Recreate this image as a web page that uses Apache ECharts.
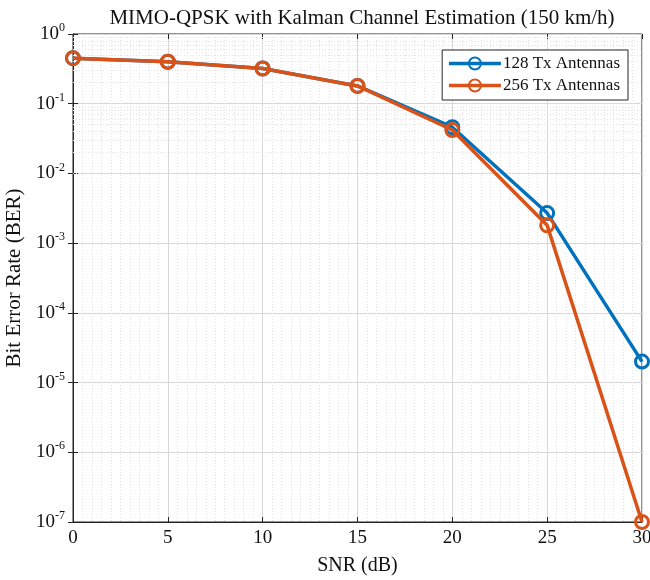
<!DOCTYPE html>
<html>
<head>
<meta charset="utf-8">
<script src="https://cdn.jsdelivr.net/npm/echarts@6/dist/echarts.min.js"></script>
<style>
  html, body { margin: 0; padding: 0; background: #fff; }
  #main { width: 650px; height: 580px; }
</style>
</head>
<body>
<div id="main"></div>
<script>
// SNR points (dB) and BER values
var snr = [0, 5, 10, 15, 20, 25, 30];
var ber128 = [0.45, 0.40, 0.32, 0.18, 0.046, 0.0027, 2.0e-5];
var ber256 = [0.45, 0.40, 0.32, 0.18, 0.042, 0.0018, 1.0e-7];
var seriesNames = ['128 Tx Antennas', '256 Tx Antennas'];

var FONT = '"Liberation Serif", "Times New Roman", serif';
var AXIS = '#262626';

var byId = function(id) {
	return document.getElementById(id);
};

function pairs(xs, ys) {
	var out = [];
	for (var i = 0; i < xs.length; i++) {
		out.push([xs[i], ys[i]]);
	}
	return out;
}

// dotted minor grid (2..9 x 10^k) like MATLAB's log minor grid
var minorY = [];
for (var k = -7; k < 0; k++) {
	for (var m = 2; m <= 9; m++) {
		minorY.push({ yAxis: m * Math.pow(10, k) });
	}
}

function expLabel(v) {
	var e = Math.round(Math.log10(v));
	return '{b|10}{e|' + e + '}';
}

var chart = echarts.init(byId('main'));
var option = {
	backgroundColor: '#fff',
	animation: false,
	title: {
		text: 'MIMO-QPSK with Kalman Channel Estimation (150 km/h)',
		left: 357,
		textAlign: 'center',
		top: 3,
		textStyle: { fontFamily: FONT, fontSize: 21, fontWeight: 'normal', color: '#111' }
	},
	legend: {
		data: seriesNames,
		orient: 'vertical',
		right: 22,
		top: 50,
		padding: [5, 8, 6, 5],
		itemGap: 5,
		itemWidth: 52,
		itemHeight: 15,
		backgroundColor: '#fff',
		borderColor: AXIS,
		borderWidth: 1,
		lineStyle: { width: 3.5 },
		textStyle: { fontFamily: FONT, fontSize: 17, color: '#111', padding: [0, 0, 0, -3] }
	},
	grid: {
		left: 73,
		right: 8,
		top: 34,
		bottom: 58,
		outerBoundsMode: 'none',
		show: true,
		borderColor: AXIS,
		borderWidth: 1,
		backgroundColor: '#fff'
	},
	xAxis: [{
		type: 'value',
		min: 0,
		max: 30,
		interval: 5,
		name: 'SNR (dB)',
		nameLocation: 'middle',
		nameGap: 34,
		nameTextStyle: { fontFamily: FONT, fontSize: 20, color: '#111' },
		axisLine: { show: true, onZero: false, lineStyle: { color: AXIS } },
		axisTick: { inside: true, length: 5, lineStyle: { color: AXIS } },
		axisLabel: { fontFamily: FONT, fontSize: 19, color: '#111', margin: 7 },
		splitLine: { show: true, lineStyle: { color: '#d8d8d8', width: 1 } },
		minorTick: { show: false, splitNumber: 10 },
		minorSplitLine: { show: true, lineStyle: { color: '#e2e2e2', type: [1, 2], width: 1 } }
	}, {
		type: 'value',
		position: 'top',
		min: 0,
		max: 30,
		interval: 5,
		axisLine: { show: false },
		axisTick: { inside: true, length: 5, lineStyle: { color: AXIS } },
		axisLabel: { show: false },
		splitLine: { show: false }
	}],
	yAxis: [{
		type: 'log',
		logBase: 10,
		min: 1e-7,
		max: 1,
		splitNumber: 7,
		name: 'Bit Error Rate (BER)',
		nameLocation: 'middle',
		nameGap: 44,
		nameTextStyle: { fontFamily: FONT, fontSize: 21, color: '#111' },
		axisLine: { show: true, lineStyle: { color: AXIS } },
		axisTick: { inside: true, length: 5, lineStyle: { color: AXIS } },
		axisLabel: {
			margin: 8,
			formatter: expLabel,
			rich: {
				b: { fontFamily: FONT, fontSize: 19, color: '#111', lineHeight: 24 },
				e: { fontFamily: FONT, fontSize: 12, color: '#111', lineHeight: 13, verticalAlign: 'top' }
			}
		},
		splitLine: { show: true, lineStyle: { color: '#d8d8d8', width: 1 } }
	}, {
		type: 'log',
		logBase: 10,
		position: 'right',
		min: 1e-7,
		max: 1,
		splitNumber: 7,
		axisLine: { show: false },
		axisTick: { inside: true, length: 5, lineStyle: { color: AXIS } },
		axisLabel: { show: false },
		splitLine: { show: false }
	}],
	series: [{
		name: seriesNames[0],
		type: 'line',
		data: pairs(snr, ber128),
		symbol: 'circle',
		symbolSize: 13,
		clip: false,
		color: '#0072BD',
		lineStyle: { width: 3.5, color: '#0072BD' },
		itemStyle: { color: 'transparent', borderColor: '#0072BD', borderWidth: 3 },
		z: 3,
		markLine: {
			silent: true,
			symbol: 'none',
			label: { show: false },
			lineStyle: { color: '#e2e2e2', type: [1, 2], width: 1 },
			data: minorY,
			z: 1
		}
	}, {
		name: seriesNames[1],
		type: 'line',
		data: pairs(snr, ber256),
		symbol: 'circle',
		symbolSize: 13,
		clip: false,
		color: '#D95319',
		lineStyle: { width: 3.5, color: '#D95319' },
		itemStyle: { color: 'transparent', borderColor: '#D95319', borderWidth: 3 },
		z: 4
	}]
};
chart.setOption(option);
</script>
</body>
</html>
